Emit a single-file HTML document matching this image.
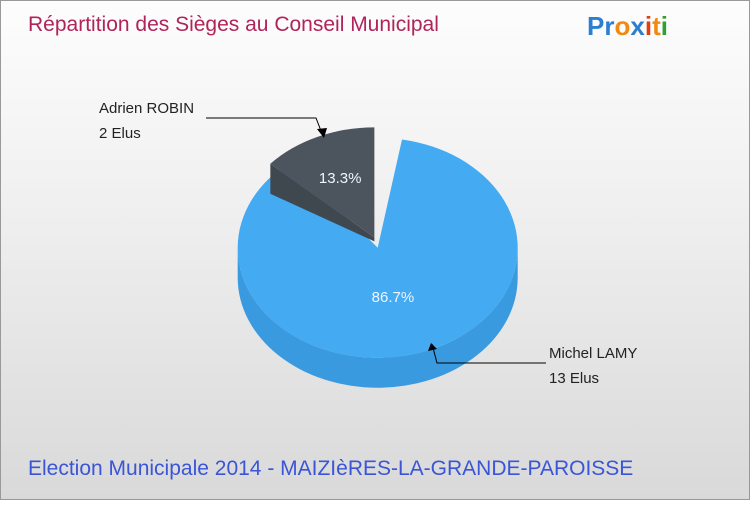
<!DOCTYPE html>
<html><head><meta charset="utf-8"><style>
body{margin:0;width:750px;height:500px;overflow:hidden;font-family:"Liberation Sans",sans-serif}
#wrap{position:absolute;left:0;top:0;width:748px;height:498px;border:1px solid #999;background:linear-gradient(#fdfdfd,#f0f0f0 40%,#d9d9d9)}
</style></head><body>
<div id="wrap">
<svg width="750" height="500" id="svg">
<text x="27" y="30" font-size="21" fill="#b0245a">Répartition des Sièges au Conseil Municipal</text>
<g font-size="26" font-weight="bold" font-family="'Liberation Sans',sans-serif">
<text x="586" y="34"><tspan fill="#2a7fd0">Pr</tspan><tspan fill="#f08a10">o</tspan><tspan fill="#2a7fd0">x</tspan><tspan fill="#e04010">i</tspan><tspan fill="#f08a10">t</tspan><tspan fill="#30a030">i</tspan></text></g>
<g id="pie"></g>
<text x="27" y="474" font-size="21" fill="#3a55d8">Election Municipale 2014 - MAIZIèRES-LA-GRANDE-PAROISSE</text>
</svg></div>
<script>
const labels=["Michel LAMY","Adrien ROBIN"];
const seats=[13,2];
const colors=["#44aaf2","#4c555e"];
const sides=["#3a9ae0","#40484f"];
const NS="http://www.w3.org/2000/svg";
const pie=document.getElementById('pie');
const cx=375,cy=240,rx=140,ry=110,depth=30;
const total=seats.reduce((a,b)=>a+b,0);
function pt(c,a){return [c[0]+rx*Math.sin(a),c[1]-ry*Math.cos(a)];}
function mk(tag,attrs,name){const e=document.createElementNS(NS,tag);for(const k in attrs)e.setAttribute(k,attrs[k]);


pie.appendChild(e);return e;}
const a1=seats[0]/total*2*Math.PI;
const rot=10*Math.PI/180;
const slices=[{s:rot,e:rot+a1,ex:7},{s:a1,e:2*Math.PI,ex:4}];
slices.forEach((sl,i)=>{const m=(sl.s+sl.e)/2;sl.c=[cx+sl.ex*Math.sin(m),cy-sl.ex*Math.cos(m)];});
slices.forEach((sl,i)=>{
 const c=sl.c;
 const s=Math.max(sl.s,Math.PI/2),e=Math.min(sl.e,3*Math.PI/2);
 if(e>s){const p1=pt(c,s),p2=pt(c,e);
  mk('path',{d:`M${p1[0]},${p1[1]} A${rx},${ry} 0 ${e-s>Math.PI?1:0} 1 ${p2[0]},${p2[1]} L${p2[0]},${p2[1]+depth} A${rx},${ry} 0 ${e-s>Math.PI?1:0} 0 ${p1[0]},${p1[1]+depth} Z`,fill:sides[i]},'slice-side-'+i);}
 if(i===1){const p=pt(c,sl.s);
  mk('path',{d:`M${c[0]},${c[1]} L${p[0]},${p[1]} L${p[0]},${p[1]+depth} L${c[0]},${c[1]+4} Z`,fill:sides[i]},'slice-wall-'+i);}
 const p1=pt(c,sl.s),p2=pt(c,sl.e);
 mk('path',{d:`M${c[0]},${c[1]} L${p1[0]},${p1[1]} A${rx},${ry} 0 ${sl.e-sl.s>Math.PI?1:0} 1 ${p2[0]},${p2[1]} Z`,fill:colors[i]},'slice-'+labels[i].toLowerCase().replace(/ /g,'-'));
 const m=(sl.s+sl.e)/2,r=i===0?0.45:0.6;
 const t=mk('text',{x:c[0]+rx*r*Math.sin(m),y:c[1]-ry*r*Math.cos(m)+6,'text-anchor':'middle','font-size':15,fill:'#eef6ff'},'pct-label-'+i);
 t.textContent=(seats[i]/total*100).toFixed(1)+'%';
});
mk('path',{d:'M205,117 L315,117 L322,135',stroke:'#000',fill:'none'},'leader-robin');
mk('polygon',{points:'316,128 326,127 323,137',fill:'#000'},'arrow-robin');
mk('path',{d:'M545,362 L436,362 L431,343',stroke:'#000',fill:'none'},'leader-lamy');
mk('polygon',{points:'427,350 436,348 430,342',fill:'#000'},'arrow-lamy');
const lab=[[98,112,"Adrien ROBIN"],[98,137,"2 Elus"],[548,357,"Michel LAMY"],[548,382,"13 Elus"]];
lab.forEach((l,i)=>{const t=mk('text',{x:l[0],y:l[1],'font-size':15,fill:'#222'},'callout-text-'+i);t.textContent=l[2];});
</script>
</body></html>
